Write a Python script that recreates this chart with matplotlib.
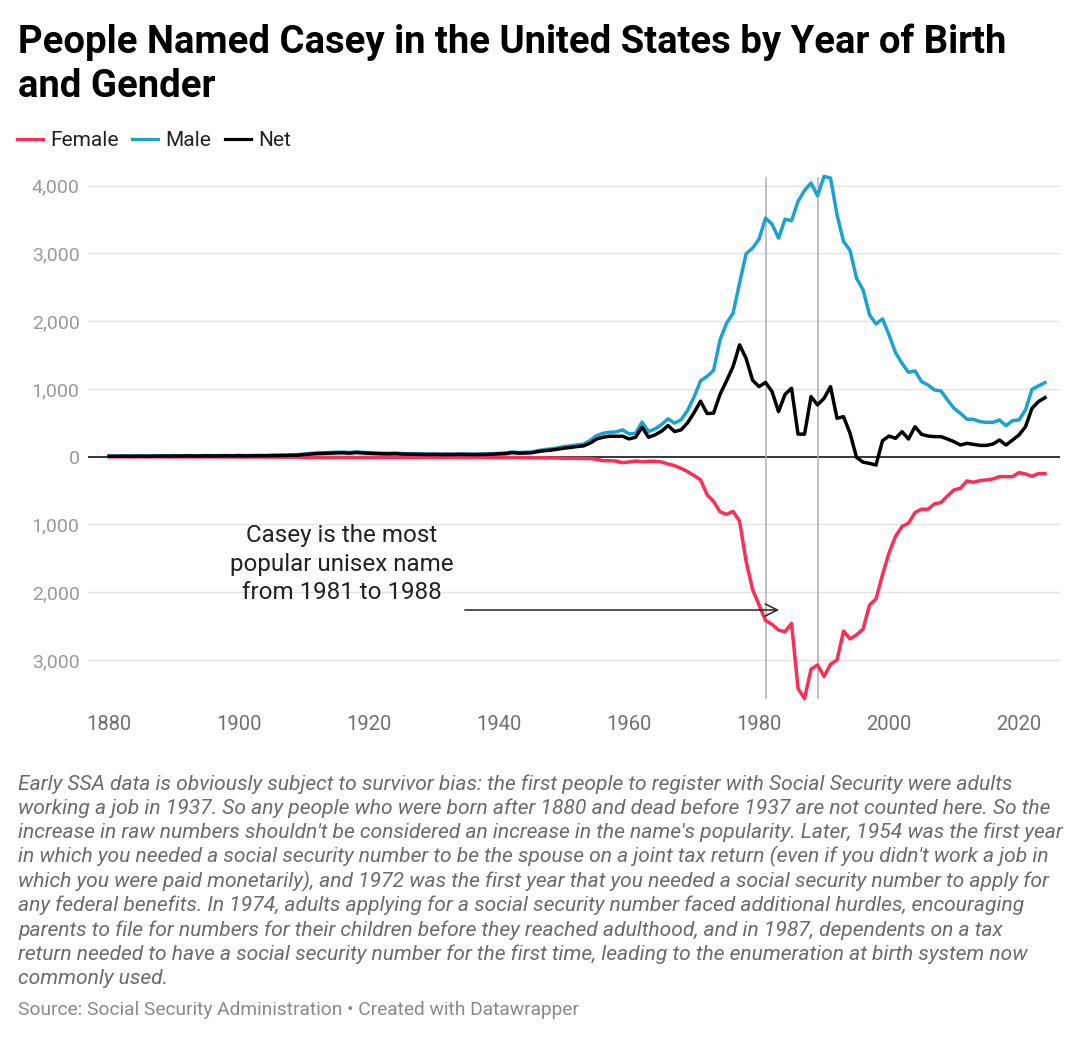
import matplotlib
matplotlib.use("Agg")
import matplotlib.pyplot as plt
from matplotlib.lines import Line2D
import numpy as np

plt.rcParams['font.family'] = ['Roboto', 'DejaVu Sans']

years = list(range(1880, 2025))

male = [10, 8, 10, 9, 12, 10, 11, 12, 14, 12,
        15, 13, 16, 14, 15, 17, 15, 16, 18, 15,
        20, 16, 18, 20, 19, 22, 24, 25, 28, 30,
        40, 48, 55, 58, 62, 66, 68, 62, 72, 65,
        60, 55, 52, 50, 54, 48, 45, 44, 42, 40,
        42, 38, 40, 38, 42, 40, 38, 40, 42, 45,
        50, 55, 70, 62, 65, 70, 90, 105, 115, 130,
        150, 160, 175, 185, 240, 311, 346, 361, 366, 396,
        336, 346, 510, 371, 411, 475, 559, 495, 545, 683,
        881, 1120, 1185, 1275, 1724, 1970, 2118, 2562, 2995, 3079,
        3212, 3522, 3433, 3227, 3507, 3483, 3768, 3931, 4039, 3852,
        4138, 4113, 3571, 3177, 3044, 2635, 2463, 2094, 1960, 2034,
        1798, 1537, 1379, 1246, 1266, 1108, 1059, 985, 970, 837,
        714, 640, 552, 552, 517, 507, 507, 542, 458, 532,
        542, 690, 995, 1044, 1094]

female = [3, 2, 3, 3, 4, 3, 4, 3, 4, 4,
          4, 3, 4, 4, 5, 4, 5, 5, 5, 4,
          6, 5, 5, 6, 6, 6, 7, 7, 7, 8,
          8, 9, 9, 10, 10, 10, 11, 10, 11, 10,
          10, 9, 9, 9, 10, 9, 8, 8, 8, 8,
          8, 7, 8, 7, 8, 8, 7, 8, 8, 8,
          8, 9, 10, 10, 11, 12, 14, 16, 18, 20,
          24, 24, 25, 26, 28, 39, 59, 60, 64, 88,
          78, 64, 73, 68, 68, 78, 108, 132, 171, 220,
          279, 342, 562, 660, 815, 850, 808, 950, 1540, 1960,
          2190, 2418, 2475, 2559, 2583, 2461, 3422, 3569, 3137, 3074,
          3245, 3064, 3000, 2574, 2690, 2630, 2545, 2190, 2098, 1740,
          1422, 1176, 1029, 980, 824, 775, 775, 696, 676, 578,
          490, 466, 358, 377, 353, 343, 328, 294, 294, 294,
          235, 255, 289, 250, 250]

net = [7, 6, 7, 6, 8, 7, 7, 9, 10, 8,
       11, 10, 12, 10, 10, 13, 10, 11, 13, 11,
       14, 11, 13, 14, 13, 16, 17, 18, 21, 22,
       32, 39, 46, 48, 52, 56, 57, 52, 61, 55,
       50, 46, 43, 41, 44, 39, 37, 36, 34, 32,
       34, 31, 32, 31, 34, 32, 31, 32, 34, 37,
       42, 46, 60, 52, 54, 58, 76, 89, 97, 110,
       126, 136, 150, 160, 200, 262, 287, 302, 302, 302,
       262, 287, 435, 287, 322, 376, 460, 371, 396, 500,
       649, 820, 637, 642, 920, 1120, 1330, 1650, 1453, 1130,
       1034, 1096, 961, 665, 920, 1010, 333, 333, 887, 764,
       862, 1034, 567, 591, 345, -10, -80, -99, -123, 236,
       305, 271, 369, 261, 443, 330, 305, 296, 296, 261,
       222, 172, 197, 182, 167, 167, 187, 246, 172, 246,
       320, 443, 714, 813, 872]

ytick_vals = [4000, 3000, 2000, 1000, 0, -1000, -2000, -3000]
ytick_labels = ["4,000", "3,000", "2,000", "1,000", "0", "1,000", "2,000", "3,000"]
xtick_vals = [1880, 1900, 1920, 1940, 1960, 1980, 2000, 2020]
highlight_years = [1981, 1989]

RED = "#ff2d55"
BLUE = "#1ba3d0"
W, H = 1080, 1038

fig = plt.figure(figsize=(W / 100, H / 100), dpi=100)

def fx(x):
    return x / W

def fy(y):
    return 1 - y / H

ax_left, ax_right, ax_top, ax_bottom = 88, 1060, 177.3, 699.3
ax = fig.add_axes([fx(ax_left), fy(ax_bottom), (ax_right - ax_left) / W, (ax_bottom - ax_top) / H])
ax.set_xlim(1876.74, 2026.31)
ax.set_ylim(-3581, 4124)

for v in ytick_vals:
    if v != 0:
        ax.axhline(v, color="#e3e3e3", lw=1.0, zorder=1)
ax.axhline(0, color="black", lw=1.1, zorder=2)
for yr in highlight_years:
    ax.axvline(yr, color="#b0b0b0", lw=1.1, zorder=2)

yrs = np.array(years)
ax.plot(yrs, -np.array(female), color=RED, lw=2.5, zorder=4, solid_joinstyle='round', clip_on=False)
ax.plot(yrs, np.array(male), color=BLUE, lw=2.5, zorder=4, solid_joinstyle='round', clip_on=False)
ax.plot(yrs, np.array(net), color="black", lw=2.5, zorder=5, solid_joinstyle='round', clip_on=False)

ax.set_yticks(ytick_vals)
ax.set_yticklabels(ytick_labels)
ax.set_xticks(xtick_vals)
ax.set_xticklabels([str(v) for v in xtick_vals])
ax.tick_params(axis='y', length=0, pad=6, labelsize=14, labelcolor="#9a9a9a")
ax.tick_params(axis='x', length=0, pad=11, labelsize=14.5, labelcolor="#707070")
for s in ax.spines.values():
    s.set_visible(False)

# annotation
ax.text(1915.8, -1584, "Casey is the most\npopular unisex name\nfrom 1981 to 1988",
        ha='center', va='center', fontsize=17.4, color="#222222", linespacing=1.3, zorder=6)
ax.annotate("", xy=(1983.5, -2263), xytext=(1934.3, -2263),
            arrowprops=dict(arrowstyle="->", color="#222222", lw=1.1, mutation_scale=22), zorder=6)

# title
fig.text(fx(18), fy(53.3), "People Named Casey in the United States by Year of Birth",
         fontsize=27.5, fontweight='bold', color="black", va='baseline', ha='left')
fig.text(fx(18), fy(96.7), "and Gender",
         fontsize=27.5, fontweight='bold', color="black", va='baseline', ha='left')

# legend
legend_items = [("Female", RED, 17, 50), ("Male", BLUE, 132, 165), ("Net", "black", 225, 258)]
for label, col, lx, tx in legend_items:
    fig.add_artist(Line2D([fx(lx), fx(lx + 26)], [fy(139), fy(139)], color=col, lw=2.3,
                          transform=fig.transFigure))
    fig.text(fx(tx), fy(146.5), label, fontsize=15, color="#222222", va='baseline', ha='left')

notes = [
    "Early SSA data is obviously subject to survivor bias: the first people to register with Social Security were adults",
    "working a job in 1937. So any people who were born after 1880 and dead before 1937 are not counted here. So the",
    "increase in raw numbers shouldn't be considered an increase in the name's popularity. Later, 1954 was the first year",
    "in which you needed a social security number to be the spouse on a joint tax return (even if you didn't work a job in",
    "which you were paid monetarily), and 1972 was the first year that you needed a social security number to apply for",
    "any federal benefits. In 1974, adults applying for a social security number faced additional hurdles, encouraging",
    "parents to file for numbers for their children before they reached adulthood, and in 1987, dependents on a tax",
    "return needed to have a social security number for the first time, leading to the enumeration at birth system now",
    "commonly used.",
]
for i, line in enumerate(notes):
    fig.text(fx(18), fy(790 + i * 24.25), line, fontsize=15.1, style='italic', color="#6b6b6b",
             va='baseline', ha='left')

fig.text(fx(18), fy(1015), "Source: Social Security Administration \u2022 Created with Datawrapper",
         fontsize=13.8, color="#8a8a8a", va='baseline', ha='left')

fig.savefig("out.png", dpi=100, facecolor="white")
